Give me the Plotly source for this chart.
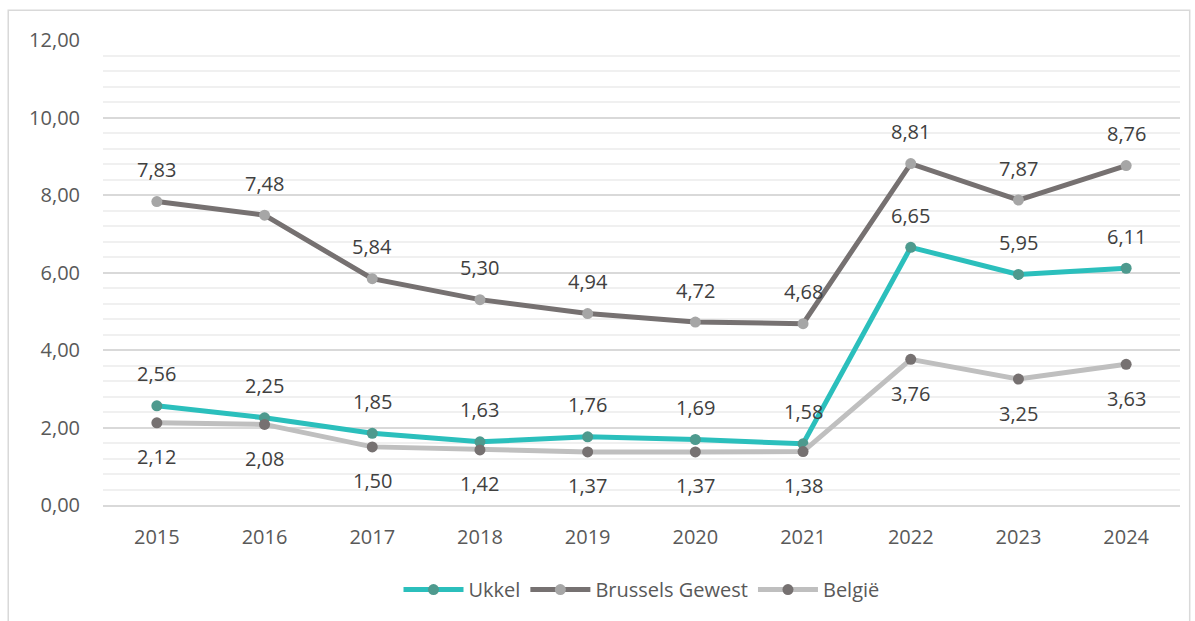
import plotly.graph_objects as go

years = ["2015", "2016", "2017", "2018", "2019", "2020", "2021", "2022", "2023", "2024"]
ukkel = [2.56, 2.25, 1.85, 1.63, 1.76, 1.69, 1.58, 6.65, 5.95, 6.11]
brussels = [7.83, 7.48, 5.84, 5.30, 4.94, 4.72, 4.68, 8.81, 7.87, 8.76]
belgie = [2.12, 2.08, 1.50, 1.42, 1.37, 1.37, 1.38, 3.76, 3.25, 3.63]
yticks = [0, 2, 4, 6, 8, 10, 12]

series = [
    ("Ukkel", ukkel, "#2BBFBC", "#4E9A8E", 32),
    ("Brussels Gewest", brussels, "#767171", "#A6A6A6", 32),
    ("België", belgie, "#BFBFBF", "#767171", -34),
]

font = "Open Sans, DejaVu Sans, sans-serif"
fig = go.Figure()
annotations = []
for name, vals, lc, mc, shift in series:
    fig.add_trace(go.Scatter(
        x=years, y=vals, name=name, mode="lines+markers",
        line=dict(color=lc, width=5),
        marker=dict(color=mc, size=11),
    ))
    for i, v in enumerate(vals):
        annotations.append(dict(
            x=i, y=v, xref="x", yref="y", text=f"{v:.2f}".replace(".", ","),
            showarrow=False, yshift=shift,
            font=dict(size=20, color="#404040", family=font),
        ))

fig.update_layout(
    width=1195, height=621,
    paper_bgcolor="white", plot_bgcolor="white",
    margin=dict(l=103, r=15, t=40, b=111),
    separators=",.",
    font=dict(family=font, size=20, color="#595959"),
    annotations=annotations,
    showlegend=True,
    legend=dict(orientation="h", x=0.5, xanchor="center", y=-0.14, yanchor="top",
                font=dict(size=20, color="#595959"), itemwidth=60),
    xaxis=dict(type="category", showgrid=False, showline=True, linecolor="#D9D9D9",
               linewidth=1.5, ticks="", tickfont=dict(size=20, color="#595959"),
               ticklabelstandoff=13, range=[-0.5, 9.5]),
    yaxis=dict(range=[0, 12], tickvals=yticks, tickformat=".2f", showgrid=True,
               gridcolor="#D9D9D9", gridwidth=1.5, zeroline=False, showline=False,
               ticks="", ticklabelstandoff=22, tickfont=dict(size=20, color="#595959"),
               minor=dict(dtick=0.4, showgrid=True, gridcolor="#F0F0F0", gridwidth=1.5)),
    shapes=[dict(type="rect", xref="paper", yref="paper", x0=-0.088, x1=1.009,
                 y0=-0.3, y1=1.064, line=dict(color="#D9D9D9", width=1.5),
                 fillcolor="rgba(0,0,0,0)", layer="below")],
)

fig.write_html("out.html", config={"displayModeBar": False},
               post_script="document.body.style.margin='0';")
